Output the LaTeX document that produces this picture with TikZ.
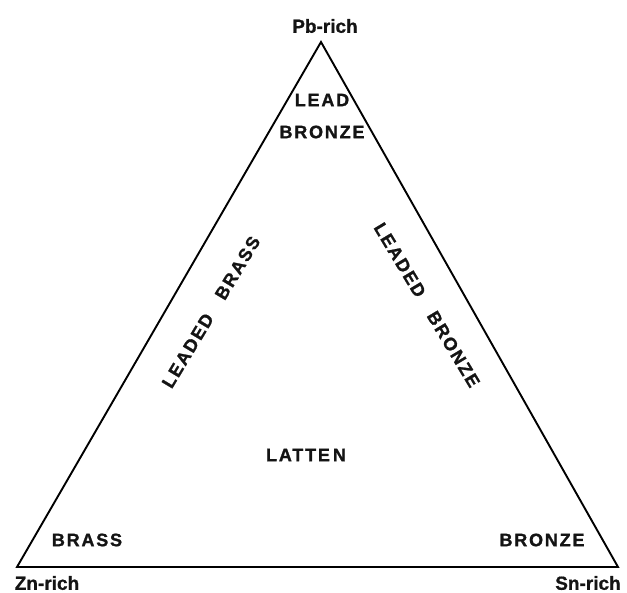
\documentclass[tikz,border=0pt]{standalone}
\usepackage{fontspec}
\setmainfont{Liberation Sans}[BoldFeatures={FakeBold=0.8}]
\newfontfamily\lblfont[LetterSpace=10,BoldFeatures={FakeBold=1.2}]{Liberation Sans}
\begin{document}
\begin{tikzpicture}[x=1pt,y=-1pt,
  edge/.style={line width=1.9pt,line join=miter},
  lbl/.style={font=\lblfont\bfseries\fontsize{18}{21}\selectfont,inner sep=0pt,text=black!92},
  corner/.style={font=\bfseries\fontsize{19}{22}\selectfont,inner sep=0pt,text=black!92}]
\useasboundingbox (0,0) rectangle (627,593);
\coordinate (pb) at (321,42);
\coordinate (zn) at (17,567);
\coordinate (sn) at (618,567);
\draw[edge] (pb) -- (zn) -- (sn) -- cycle;
\node[corner] (pbl) at (325,26) {Pb-rich};
\node[corner] (znl) at (47,583) {Zn-rich};
\node[corner] (snl) at (588,583) {Sn-rich};
\node[lbl] (lead) at (322,100) {LEAD};
\node[lbl] (leadbronze) at (322,132) {BRONZE};
\node[lbl,rotate=59] (lbrass) at (211,312) {LEADED\hspace{20pt}BRASS};
\node[lbl,rotate=-59] (lbronze) at (427,305) {LEADED\hspace{20pt}BRONZE};
\node[lbl] (latten) at (306,455) {LATTE\hspace{3pt}N};
\node[lbl] (brass) at (87,540) {BRASS};
\node[lbl] (bronze) at (542,540) {BRONZE};
\end{tikzpicture}
\end{document}
